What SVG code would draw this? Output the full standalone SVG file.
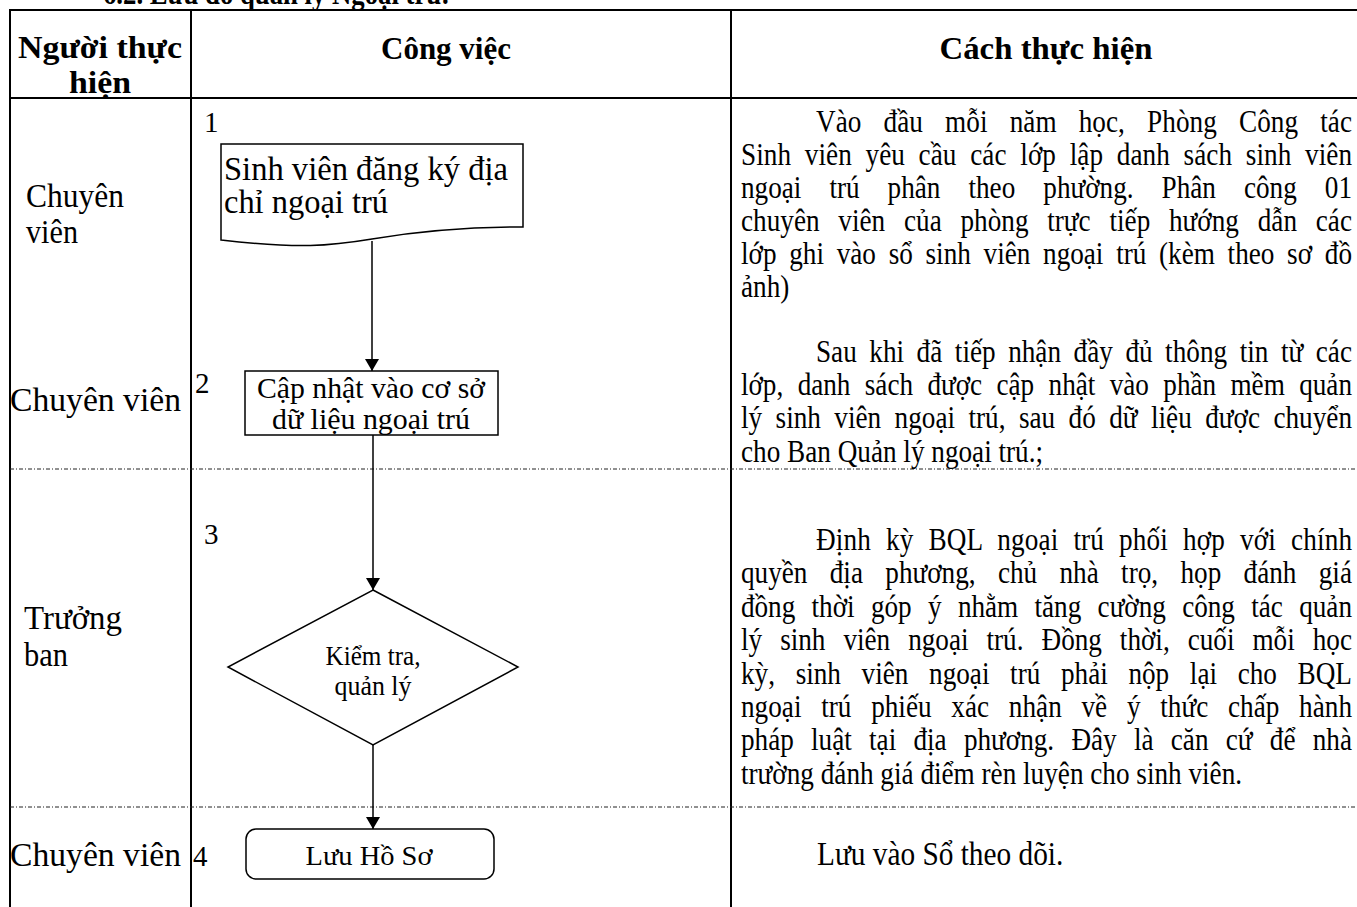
<svg xmlns="http://www.w3.org/2000/svg" width="1357" height="907" viewBox="0 0 1357 907">
<style>
  text { font-family: "Liberation Serif", "Times New Roman", serif; fill: #000; }
  .hdr { font-weight: bold; font-size: 32px; }
  .title { font-weight: bold; font-size: 31px; }
  .lane { font-size: 33px; }
  .num { font-size: 29px; }
  .node { font-size: 30px; }
  .dia { font-size: 28px; }
  .body { font-size: 32px; }
  .big { font-size: 34.5px; }
  .grid { stroke: #000; stroke-width: 2; fill: none; }
  .dash { stroke: #222; stroke-width: 1; stroke-dasharray: 4 2 1 2; fill: none; }
  .shape { stroke: #000; stroke-width: 1.5; fill: #fff; }
  .conn { stroke: #000; stroke-width: 1.5; fill: none; }
</style>
<defs>
  <marker id="arr" viewBox="0 0 12 14" refX="12" refY="7" markerWidth="12" markerHeight="14" markerUnits="userSpaceOnUse" orient="auto">
    <path d="M0,0 L12,7 L0,14 z" fill="#000"/>
  </marker>
</defs>
<rect width="1357" height="907" fill="#fff"/>

<!-- partially visible title -->
<text class="title" x="103" y="4" textLength="347" lengthAdjust="spacingAndGlyphs">6.2. Lưu đồ quản lý Ngoại trú:</text>

<!-- table grid -->
<g id="table">
  <line class="grid" x1="10" y1="10" x2="1357" y2="10"/>
  <line class="grid" x1="10" y1="98" x2="1357" y2="98"/>
  <line class="grid" x1="10" y1="9" x2="10" y2="907"/>
  <line class="grid" x1="191" y1="9" x2="191" y2="907"/>
  <line class="grid" x1="731" y1="9" x2="731" y2="907"/>
  <line class="dash" x1="10" y1="469" x2="1357" y2="469"/>
  <line class="dash" x1="10" y1="807" x2="1357" y2="807"/>
</g>

<!-- headers -->
<g id="headers">
  <text class="hdr" x="100" y="58" text-anchor="middle" textLength="164" lengthAdjust="spacingAndGlyphs">Người thực</text>
  <text class="hdr" x="100" y="93" text-anchor="middle" textLength="62" lengthAdjust="spacingAndGlyphs">hiện</text>
  <text class="hdr" x="446" y="59" text-anchor="middle" textLength="130" lengthAdjust="spacingAndGlyphs">Công việc</text>
  <text class="hdr" x="1046" y="59" text-anchor="middle" textLength="213" lengthAdjust="spacingAndGlyphs">Cách thực hiện</text>
</g>

<!-- lane labels -->
<g id="lanes">
  <text class="lane" x="26" y="207" textLength="98" lengthAdjust="spacingAndGlyphs">Chuyên</text>
  <text class="lane" x="26" y="243" textLength="52" lengthAdjust="spacingAndGlyphs">viên</text>
  <text class="lane" x="10" y="411" textLength="171" lengthAdjust="spacingAndGlyphs">Chuyên viên</text>
  <text class="lane" x="24" y="629" textLength="98" lengthAdjust="spacingAndGlyphs">Trưởng</text>
  <text class="lane" x="24" y="666" textLength="44" lengthAdjust="spacingAndGlyphs">ban</text>
  <text class="lane" x="10" y="866" textLength="171" lengthAdjust="spacingAndGlyphs">Chuyên viên</text>
</g>

<!-- step numbers -->
<g id="numbers">
  <text class="num" x="204" y="132">1</text>
  <text class="num" x="195" y="393">2</text>
  <text class="num" x="204" y="544">3</text>
  <text class="num" x="193" y="866">4</text>
</g>

<!-- connectors -->
<g id="connectors">
  <line class="conn" x1="372" y1="241" x2="372" y2="371" marker-end="url(#arr)"/>
  <line class="conn" x1="373" y1="435" x2="373" y2="590" marker-end="url(#arr)"/>
  <line class="conn" x1="373" y1="745" x2="373" y2="829" marker-end="url(#arr)"/>
</g>

<!-- node 1: document -->
<g id="node1">
  <path class="shape" d="M221,144 L523,144 L523,227 C470,227 420,231 372,239 C330,246 300,249 221,240 Z"/>
  <text class="lane" x="224" y="180" textLength="284" lengthAdjust="spacingAndGlyphs">Sinh viên đăng ký địa</text>
  <text class="lane" x="224" y="213" textLength="164" lengthAdjust="spacingAndGlyphs">chỉ ngoại trú</text>
</g>

<!-- node 2: process -->
<g id="node2">
  <rect class="shape" x="245" y="371" width="253" height="64"/>
  <text class="node" x="371" y="398" text-anchor="middle" textLength="228" lengthAdjust="spacingAndGlyphs">Cập nhật vào cơ sở</text>
  <text class="node" x="371" y="429" text-anchor="middle" textLength="198" lengthAdjust="spacingAndGlyphs">dữ liệu ngoại trú</text>
</g>

<!-- node 3: decision -->
<g id="node3">
  <polygon class="shape" points="373,590 518,667 373,745 228,667"/>
  <text class="dia" x="373" y="665" text-anchor="middle" textLength="95" lengthAdjust="spacingAndGlyphs">Kiểm tra,</text>
  <text class="dia" x="373" y="695" text-anchor="middle" textLength="77" lengthAdjust="spacingAndGlyphs">quản lý</text>
</g>

<!-- node 4: terminal -->
<g id="node4">
  <rect class="shape" x="246" y="829" width="248" height="50" rx="10" ry="10"/>
  <text class="dia" x="369" y="865" text-anchor="middle" textLength="127" lengthAdjust="spacingAndGlyphs">Lưu Hồ Sơ</text>
</g>

<!-- descriptions (slightly condensed serif, justified) -->
<g id="desc1" transform="translate(741,0) scale(0.85,1)">
  <text class="body" x="88.2" y="132" word-spacing="18" textLength="630.6" lengthAdjust="spacing">Vào đầu mỗi năm học, Phòng Công tác</text>
  <text class="body" x="0" y="165" word-spacing="8" textLength="718.8" lengthAdjust="spacing">Sinh viên yêu cầu các lớp lập danh sách sinh viên</text>
  <text class="body" x="0" y="198" word-spacing="25" textLength="718.8" lengthAdjust="spacing">ngoại trú phân theo phường. Phân công 01</text>
  <text class="body" x="0" y="231" word-spacing="14" textLength="718.8" lengthAdjust="spacing">chuyên viên của phòng trực tiếp hướng dẫn các</text>
  <text class="body" x="0" y="264" word-spacing="7" textLength="718.8" lengthAdjust="spacing">lớp ghi vào sổ sinh viên ngoại trú (kèm theo sơ đồ</text>
  <text class="body" x="0" y="297">ảnh)</text>
</g>
<g id="desc2" transform="translate(741,0) scale(0.85,1)">
  <text class="body" x="88.2" y="362" word-spacing="6.7" textLength="630.6" lengthAdjust="spacing">Sau khi đã tiếp nhận đầy đủ thông tin từ các</text>
  <text class="body" x="0" y="395" word-spacing="9" textLength="718.8" lengthAdjust="spacing">lớp, danh sách được cập nhật vào phần mềm quản</text>
  <text class="body" x="0" y="428" word-spacing="7.8" textLength="718.8" lengthAdjust="spacing">lý sinh viên ngoại trú, sau đó dữ liệu được chuyển</text>
  <text class="body" x="0" y="462">cho Ban Quản lý ngoại trú.;</text>
</g>
<g id="desc3" transform="translate(741,0) scale(0.85,1)">
  <text class="body" x="88.2" y="550" word-spacing="9.5" textLength="630.6" lengthAdjust="spacing">Định kỳ BQL ngoại trú phối hợp với chính</text>
  <text class="body" x="0" y="583" word-spacing="18.3" textLength="718.8" lengthAdjust="spacing">quyền địa phương, chủ nhà trọ, họp đánh giá</text>
  <text class="body" x="0" y="617" word-spacing="11.3" textLength="718.8" lengthAdjust="spacing">đồng thời góp ý nhằm tăng cường công tác quản</text>
  <text class="body" x="0" y="650" word-spacing="13.2" textLength="718.8" lengthAdjust="spacing">lý sinh viên ngoại trú. Đồng thời, cuối mỗi học</text>
  <text class="body" x="0" y="684" word-spacing="16.3" textLength="718.8" lengthAdjust="spacing">kỳ, sinh viên ngoại trú phải nộp lại cho BQL</text>
  <text class="body" x="0" y="717" word-spacing="15.2" textLength="718.8" lengthAdjust="spacing">ngoại trú phiếu xác nhận về ý thức chấp hành</text>
  <text class="body" x="0" y="750" word-spacing="12.3" textLength="718.8" lengthAdjust="spacing">pháp luật tại địa phương. Đây là căn cứ để nhà</text>
  <text class="body" x="0" y="784">trường đánh giá điểm rèn luyện cho sinh viên.</text>
</g>
<g id="desc4" transform="translate(817,0) scale(0.85,1)">
  <text class="big" x="0" y="865">Lưu vào Sổ theo dõi.</text>
</g>
</svg>
